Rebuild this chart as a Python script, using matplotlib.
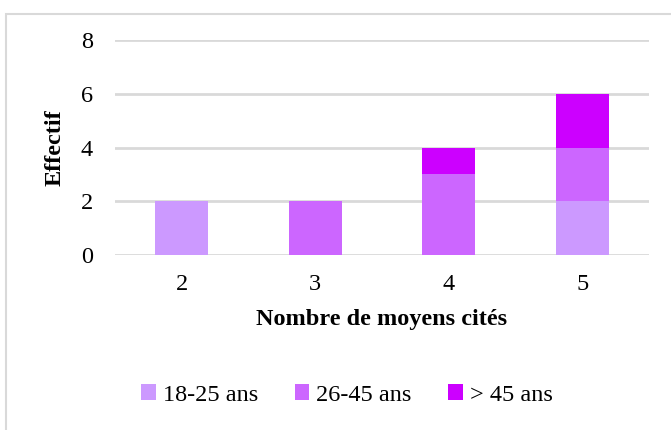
import matplotlib
matplotlib.use('Agg')
import matplotlib.pyplot as plt
import numpy as np
from matplotlib.patches import Rectangle

# --- Data ---
categories = ['2', '3', '4', '5']
age_18_25 = [2, 0, 0, 2]
age_26_45 = [0, 2, 3, 2]
age_45_plus = [0, 0, 1, 2]
series_labels = ['18-25 ans', '26-45 ans', '> 45 ans']
colors = ['#CC99FF', '#CC66FF', '#CC00FF']
y_ticks = [0, 2, 4, 6, 8]

plt.rcParams['font.family'] = ['Liberation Serif', 'DejaVu Serif']

fig = plt.figure(figsize=(6.71, 4.30), dpi=100)
ax = fig.add_axes([115 / 671, 1 - 255 / 430, 534 / 671, 215 / 430])

x = np.arange(len(categories))
bottom = np.zeros(len(categories))
for vals, lab, col in zip([age_18_25, age_26_45, age_45_plus], series_labels, colors):
    ax.bar(x, vals, width=0.4, bottom=bottom, color=col, label=lab, zorder=3)
    bottom += np.array(vals)

ax.set_xlim(-0.5, len(categories) - 0.5)
ax.set_ylim(0, 8)
ax.set_yticks(y_ticks)
ax.set_xticks(x)
ax.set_xticklabels(categories)
ax.tick_params(axis='both', length=0, labelsize=17.5)
ax.tick_params(axis='y', pad=16)
ax.tick_params(axis='x', pad=14)
ax.grid(axis='y', color='#D9D9D9', linewidth=2, zorder=0)
ax.set_axisbelow(True)
for s in ax.spines.values():
    s.set_visible(False)

ax.set_xlabel('Nombre de moyens cités', fontsize=17.5, fontweight='bold', labelpad=10)
ax.set_ylabel('Effectif', fontsize=17.5, fontweight='bold', labelpad=11)

fig.legend(loc='center', bbox_to_anchor=(347 / 671, 1 - 395 / 430), ncol=3,
           frameon=False, fontsize=17.5, handlelength=0.6, handleheight=0.6,
           handletextpad=0.3, columnspacing=1.5)

# outer frame
fig.patches.append(Rectangle((6 / 671, -0.1), 1.2, 1 - 14 / 430 + 0.1,
                             transform=fig.transFigure, fill=False,
                             edgecolor='#D9D9D9', linewidth=1.5))

fig.savefig('out.png', dpi=100)
